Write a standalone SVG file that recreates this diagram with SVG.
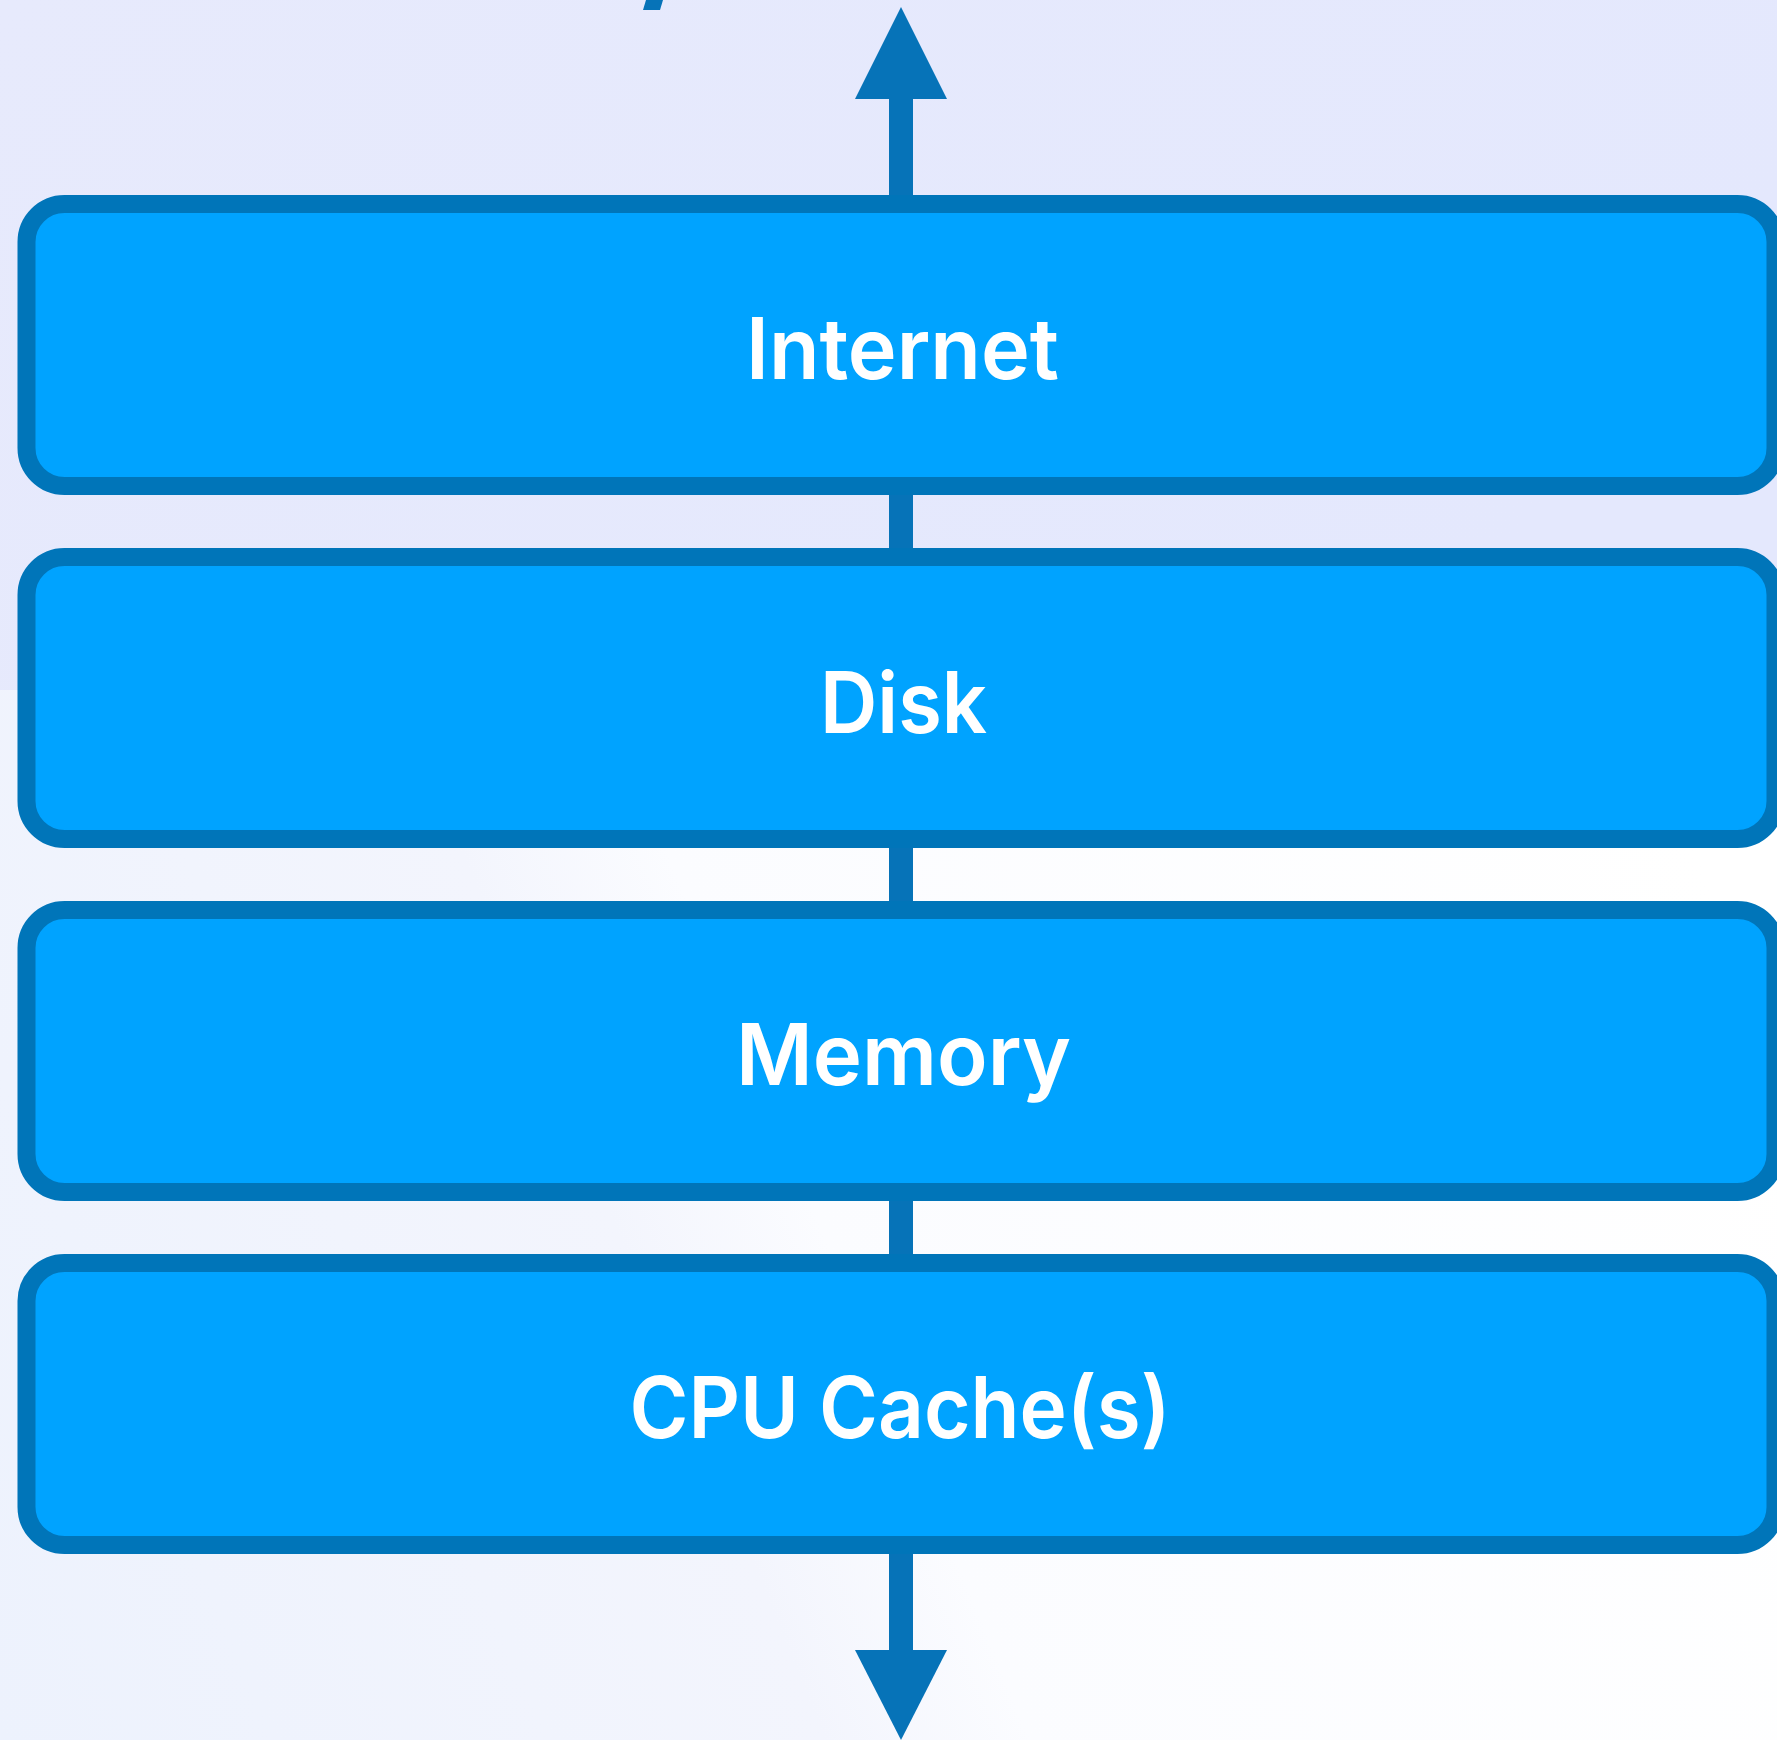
<svg xmlns="http://www.w3.org/2000/svg" width="1777" height="1740" viewBox="0 0 1777 1740">
  <defs>
    <linearGradient id="bgTop" x1="0" y1="0" x2="1" y2="0.3">
      <stop offset="0" stop-color="#e7eafc"/>
      <stop offset="1" stop-color="#e4e8fd"/>
    </linearGradient>
    <linearGradient id="bgBottom" x1="0" y1="1" x2="1" y2="0.6">
      <stop offset="0" stop-color="#edf2fd"/>
      <stop offset="0.4" stop-color="#f3f5fd"/>
      <stop offset="0.5" stop-color="#fbfcff"/>
      <stop offset="1" stop-color="#ffffff"/>
    </linearGradient>
    <style>
      .box { fill: #00a3ff; stroke: #0075b9; stroke-width: 18; }
      .label { fill: #ffffff; font-family: Inter, "Noto Sans", "Liberation Sans", sans-serif; font-size: 85px; font-weight: 600; text-anchor: middle; }
      .shaft { fill: none; stroke: #0673b8; stroke-width: 24; }
      .head { fill: #0673b8; }
    </style>
  </defs>

  <rect x="0" y="0" width="1777" height="1740" fill="url(#bgBottom)"/>
  <rect x="0" y="0" width="1777" height="690" fill="url(#bgTop)"/>
  <polygon points="646,0 663,0 660,10 643,10" fill="#0673b8"/>

  <g id="connectors">
    <line class="shaft" x1="901" y1="99" x2="901" y2="200"/>
    <polygon class="head" points="901,7 947,99 855,99"/>
    <line class="shaft" x1="901" y1="490" x2="901" y2="553"/>
    <line class="shaft" x1="901" y1="843" x2="901" y2="906"/>
    <line class="shaft" x1="901" y1="1196" x2="901" y2="1259"/>
    <line class="shaft" x1="901" y1="1549" x2="901" y2="1651"/>
    <polygon class="head" points="855,1650 947,1650 901,1740"/>
  </g>

  <g id="internet">
    <rect class="box" x="26.5" y="204" width="1749" height="282" rx="38" ry="38"/>
    <text class="label" x="902.5" y="379" textLength="313" lengthAdjust="spacingAndGlyphs">Internet</text>
  </g>
  <g id="disk">
    <rect class="box" x="26.5" y="557" width="1749" height="282" rx="38" ry="38"/>
    <text class="label" x="903.5" y="733" textLength="167" lengthAdjust="spacingAndGlyphs">Disk</text>
  </g>
  <g id="memory">
    <rect class="box" x="26.5" y="910" width="1749" height="282" rx="38" ry="38"/>
    <text class="label" x="903.5" y="1085" textLength="335" lengthAdjust="spacingAndGlyphs">Memory</text>
  </g>
  <g id="cpu-cache">
    <rect class="box" x="26.5" y="1263" width="1749" height="282" rx="38" ry="38"/>
    <text class="label" x="900" y="1438" textLength="541" lengthAdjust="spacingAndGlyphs">CPU Cache(s)</text>
  </g>
</svg>
